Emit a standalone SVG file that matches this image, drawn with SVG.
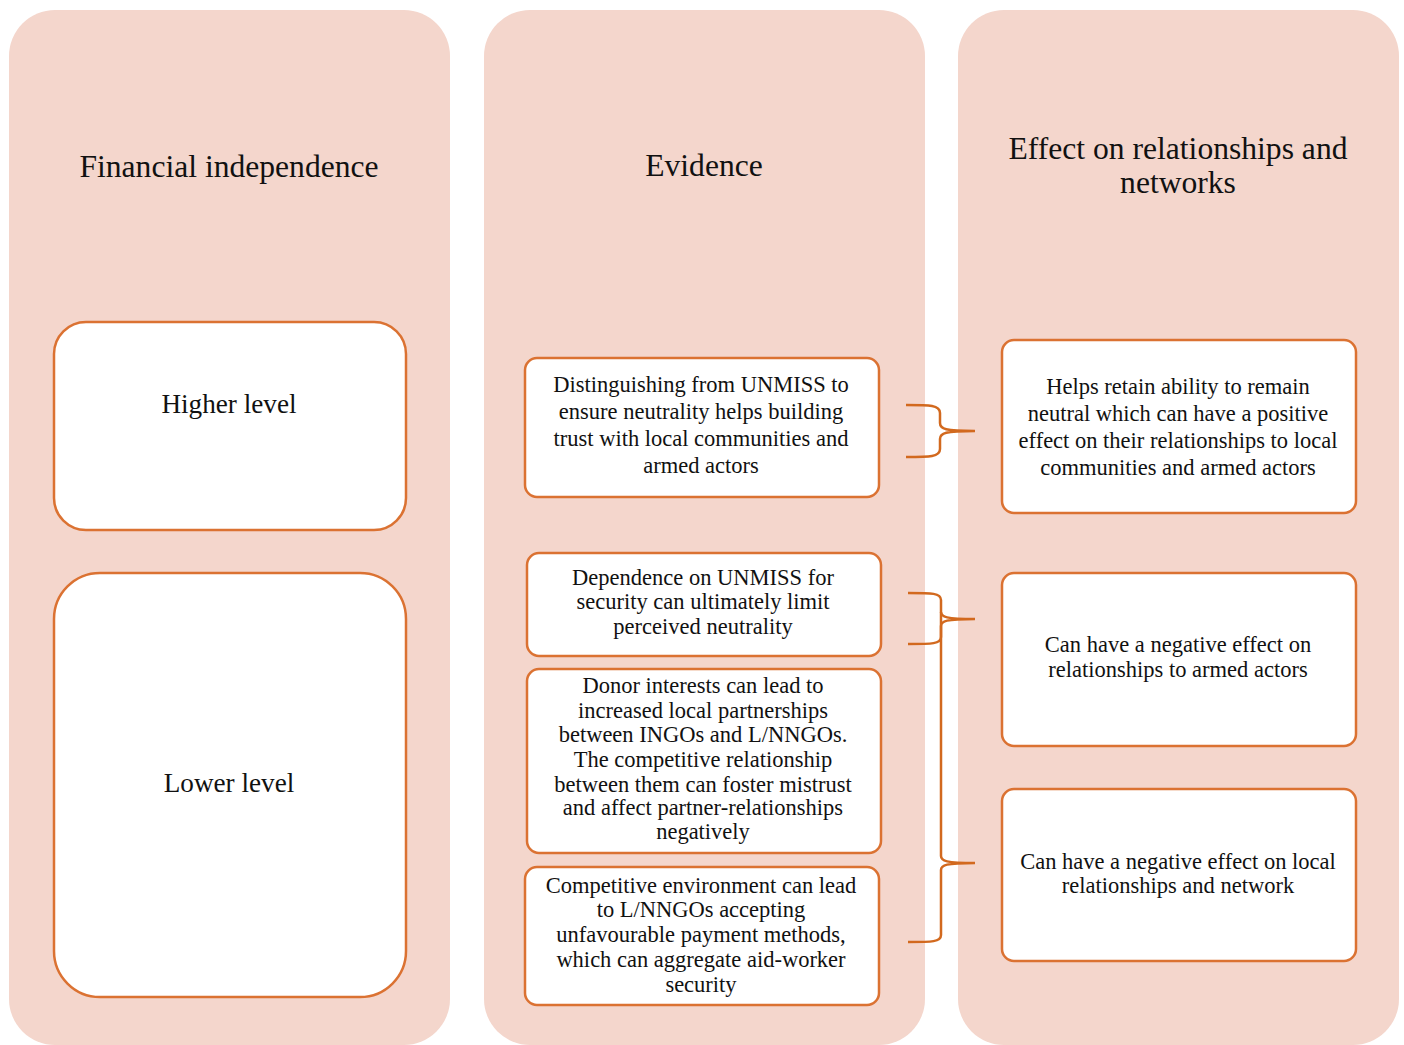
<svg xmlns="http://www.w3.org/2000/svg" width="1404" height="1045" viewBox="0 0 1404 1045">
<style>
.col{fill:#F4D6CC;}
.box{fill:#FFFFFF;stroke:#DB7232;stroke-width:2.5;}
.t{font-family:"Liberation Serif","Times New Roman",serif;fill:#111;text-anchor:middle;}
.h{font-size:31.6px;}
.l{font-size:27.2px;}
.s{font-size:22.5px;}
.br{fill:none;stroke:#D2691E;stroke-width:2.5;}
</style>
<rect width="1404" height="1045" fill="#FFFFFF"/>
<g id="col1"><rect class="col" x="9" y="10" width="441" height="1035" rx="46"/><text class="t h" x="229" y="177">Financial independence</text></g>
<g id="col2"><rect class="col" x="484" y="10" width="441" height="1035" rx="46"/><text class="t h" x="704" y="176">Evidence</text></g>
<g id="col3"><rect class="col" x="958" y="10" width="441" height="1035" rx="46"/><text class="t h" x="1178" y="159">Effect on relationships and</text><text class="t h" x="1178" y="193">networks</text></g>

<g id="higher"><rect class="box" x="54" y="322" width="352" height="208" rx="32"/><text class="t l" x="229" y="413">Higher level</text></g>
<g id="lower"><rect class="box" x="54" y="573" width="352" height="424" rx="46"/><text class="t l" x="229" y="792">Lower level</text></g>

<g id="ev1"><rect class="box" x="525" y="358" width="354" height="139" rx="12"/>
<text class="t s"><tspan x="701" y="392">Distinguishing from UNMISS to</tspan><tspan x="701" y="419">ensure neutrality helps building</tspan><tspan x="701" y="446">trust with local communities and</tspan><tspan x="701" y="473">armed actors</tspan></text></g>
<g id="ev2"><rect class="box" x="527" y="553" width="354" height="103" rx="12"/>
<text class="t s"><tspan x="703" y="585">Dependence on UNMISS for</tspan><tspan x="703" y="609">security can ultimately limit</tspan><tspan x="703" y="634">perceived neutrality</tspan></text></g>
<g id="ev3"><rect class="box" x="527" y="669" width="354" height="184" rx="12"/>
<text class="t s"><tspan x="703" y="693">Donor interests can lead to</tspan><tspan x="703" y="718">increased local partnerships</tspan><tspan x="703" y="742">between INGOs and L/NNGOs.</tspan><tspan x="703" y="767">The competitive relationship</tspan><tspan x="703" y="792">between them can foster mistrust</tspan><tspan x="703" y="815">and affect partner-relationships</tspan><tspan x="703" y="839">negatively</tspan></text></g>
<g id="ev4"><rect class="box" x="525" y="867" width="354" height="138" rx="12"/>
<text class="t s"><tspan x="701" y="893">Competitive environment can lead</tspan><tspan x="701" y="917">to L/NNGOs accepting</tspan><tspan x="701" y="942">unfavourable payment methods,</tspan><tspan x="701" y="967">which can aggregate aid-worker</tspan><tspan x="701" y="992">security</tspan></text></g>

<g id="ef1"><rect class="box" x="1002" y="340" width="354" height="173" rx="12"/>
<text class="t s"><tspan x="1178" y="394">Helps retain ability to remain</tspan><tspan x="1178" y="421">neutral which can have a positive</tspan><tspan x="1178" y="448">effect on their relationships to local</tspan><tspan x="1178" y="475">communities and armed actors</tspan></text></g>
<g id="ef2"><rect class="box" x="1002" y="573" width="354" height="173" rx="12"/>
<text class="t s"><tspan x="1178" y="652">Can have a negative effect on</tspan><tspan x="1178" y="677">relationships to armed actors</tspan></text></g>
<g id="ef3"><rect class="box" x="1002" y="789" width="354" height="172" rx="12"/>
<text class="t s"><tspan x="1178" y="869">Can have a negative effect on local</tspan><tspan x="1178" y="893">relationships and network</tspan></text></g>

<g id="connectors">
<path class="br" d="M906 405 C930 405 940 405 940 413 L940 423 C940 429 945 431 975 431 C945 431 940 433 940 439 L940 449 C940 457 930 457 906 457"/>
<path class="br" d="M908 593 C932 593 941 593 941 600 L941 612 C941 617 946 619 975 619 C946 619 941 621 941 626 L941 637 C941 644 932 644 908 644"/>
<path class="br" d="M941 612 L941 856 C941 861 946 863 975 863 C946 863 941 865 941 870 L941 935 C941 942 932 942 908 942"/>
</g>
</svg>
